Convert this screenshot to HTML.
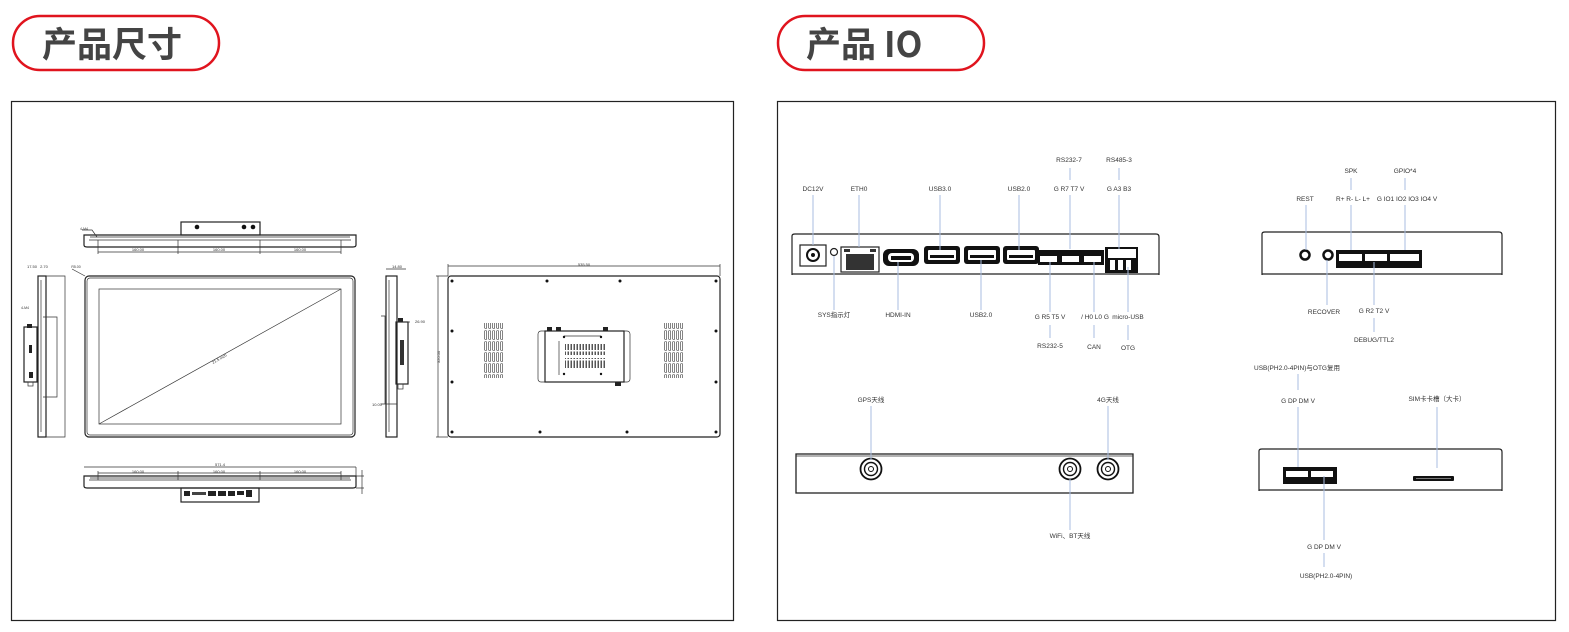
<!DOCTYPE html>
<html><head><meta charset="utf-8"><style>
html,body{margin:0;padding:0;background:#fff;}
svg{display:block;}
text{font-family:"Liberation Sans","Noto Sans CJK SC",sans-serif;}
.t{font-size:6.5px;fill:#333;text-anchor:middle;}
.h{font-size:35px;font-weight:bold;fill:#444;}
.bl{stroke:#a9bde0;stroke-width:1;}
.k{fill:none;stroke:#222;stroke-width:1.2;}
.k2{fill:none;stroke:#333;stroke-width:0.7;}
</style></head><body>
<svg width="1569" height="632" viewBox="0 0 1569 632" xmlns="http://www.w3.org/2000/svg">
<defs>
<pattern id="vent" width="4" height="11" patternUnits="userSpaceOnUse"><rect x="0.5" y="0.5" width="2.2" height="9" rx="1" fill="none" stroke="#333" stroke-width="0.6"/></pattern>
<pattern id="vent2" width="3" height="9" patternUnits="userSpaceOnUse"><rect x="0.5" y="0.5" width="1.5" height="7.5" fill="#555"/></pattern>
<pattern id="pin" width="4" height="6" patternUnits="userSpaceOnUse"><rect x="1" y="1" width="2" height="3" fill="#fff"/></pattern>
</defs>
<!-- titles -->
<rect x="13" y="16" width="206" height="54" rx="27" fill="none" stroke="#e0141e" stroke-width="2.5"/>
<text x="42" y="57" class="h" style="font-family:'Noto Sans CJK SC',sans-serif">产品尺寸</text>
<rect x="778" y="16" width="206" height="54" rx="27" fill="none" stroke="#e0141e" stroke-width="2.5"/>
<text x="806" y="57" class="h" style="font-family:'Noto Sans CJK SC',sans-serif">产品 IO</text>
<!-- panels -->
<rect x="11.5" y="101.5" width="722" height="519" fill="none" stroke="#222" stroke-width="1.2"/>
<rect x="777.5" y="101.5" width="778" height="519" fill="none" stroke="#222" stroke-width="1.2"/>

<!-- ===== dimensions ===== -->
<!-- top view -->
<rect x="181" y="222" width="79" height="13" class="k"/>
<circle cx="197" cy="227" r="2.3" fill="#111"/><circle cx="244" cy="227" r="2.3" fill="#111"/><circle cx="253" cy="227" r="2.3" fill="#111"/>
<path d="M84 235 H356 V245 Q356 247 353 247 H87 Q84 247 84 245 Z" class="k"/>
<path d="M90 237 H350 M89 240 H351" class="k2"/>
<path d="M98 240 V254 M178 240 V254 M260 240 V254 M341 240 V254 M98 252 H341" class="k2"/>
<text x="138" y="251" class="t" style="font-size:4px">160.00</text><text x="219" y="251" class="t" style="font-size:4px">160.00</text><text x="300" y="251" class="t" style="font-size:4px">160.00</text>
<path d="M82 230 H92 L97 237" class="k2"/><text x="84" y="230" class="t" style="font-size:3.5px">4-M4</text>
<!-- front view -->
<rect x="85" y="276" width="270" height="161" rx="4" class="k" stroke-width="1.6"/>
<rect x="87" y="278" width="266" height="157" rx="3" class="k2"/>
<rect x="99" y="289" width="242" height="135" class="k2"/>
<path d="M99 424 L341 289" class="k2"/>
<text x="220" y="360" class="t" style="font-size:4px" transform="rotate(-29 220 360)">21.5 inch</text>
<path d="M72 269 L85 276" class="k2"/><text x="76" y="268" class="t" style="font-size:3.5px">R5.00</text>
<!-- left side view -->
<rect x="38" y="276" width="8" height="161" class="k"/>
<path d="M41 280 V432" class="k2"/>
<rect x="24" y="327" width="13" height="55" class="k"/>
<rect x="27" y="324" width="5" height="4" fill="#222"/><rect x="29" y="345" width="3" height="8" fill="#222"/><rect x="29" y="372" width="4" height="6" fill="#222"/>
<rect x="28" y="382" width="5" height="4" class="k2"/>
<path d="M46 276 H65 V437 H46 M43 317 H57 V397 H43" class="k2"/>
<text x="32" y="268" class="t" style="font-size:4px">17.50</text><text x="44" y="268" class="t" style="font-size:4px">2.70</text>
<text x="25" y="309" class="t" style="font-size:3.5px">4-M4</text>
<!-- bottom view -->
<path d="M84 476 H356 V486 Q356 488 353 488 H87 Q84 488 84 486 Z" class="k"/>
<path d="M90 478 H350 M89 480 H351" class="k2"/>
<path d="M84 467 H356 M98 473 H341 M98 471 V480 M178 471 V480 M260 471 V480 M341 471 V480 M356 467 V476" class="k2"/>
<text x="220" y="466" class="t" style="font-size:4px">571.4</text>
<text x="138" y="473" class="t" style="font-size:4px">160.00</text><text x="219" y="473" class="t" style="font-size:4px">160.00</text><text x="300" y="473" class="t" style="font-size:4px">160.00</text>
<path d="M356 476 H364 M356 488 H364 M362 470 V494" class="k2"/>
<rect x="181" y="488" width="78" height="14" class="k"/>
<rect x="184" y="491" width="6" height="5" fill="#222"/><rect x="192" y="492" width="14" height="3" fill="#444"/>
<rect x="208" y="491" width="8" height="5" fill="#222"/><rect x="218" y="491" width="8" height="5" fill="#222"/><rect x="228" y="491" width="7" height="5" fill="#222"/><rect x="237" y="491" width="7" height="4" fill="#222"/><rect x="246" y="490" width="6" height="7" fill="#222"/>
<!-- right side view -->
<rect x="386" y="276" width="11" height="161" class="k"/>
<path d="M389 280 V432" class="k2"/>
<rect x="396" y="322" width="12" height="62" class="k"/>
<rect x="400" y="340" width="4" height="25" fill="#333"/><rect x="398" y="318" width="5" height="4" fill="#222"/>
<rect x="398" y="384" width="5" height="5" class="k2"/>
<path d="M386 269 H406 M381 316 H385 V404 M397 322 H410 M381 404 H397" class="k2"/>
<text x="397" y="268" class="t" style="font-size:4px">14.80</text><text x="420" y="323" class="t" style="font-size:4px">26.90</text>
<text x="377" y="406" class="t" style="font-size:4px">10.00</text>
<!-- rear view -->
<rect x="448" y="276" width="272" height="161" rx="3" class="k" stroke-width="1.5"/>
<path d="M448 266 H720 M448 264 V276 M720 264 V276 M438 276 V437 M436 276 H448 M436 437 H448" class="k2"/>
<text x="584" y="266" class="t" style="font-size:4px">535.50</text>
<text x="440" y="357" class="t" style="font-size:4px" transform="rotate(-90 440 357)">320.00</text>
<g fill="#111">
<circle cx="452" cy="281" r="1.5"/><circle cx="547" cy="281" r="1.5"/><circle cx="620" cy="281" r="1.5"/><circle cx="716" cy="281" r="1.5"/>
<circle cx="452" cy="331" r="1.5"/><circle cx="716" cy="331" r="1.5"/><circle cx="452" cy="382" r="1.5"/><circle cx="716" cy="382" r="1.5"/>
<circle cx="452" cy="432" r="1.5"/><circle cx="540" cy="432" r="1.5"/><circle cx="627" cy="432" r="1.5"/><circle cx="716" cy="432" r="1.5"/>
</g>
<rect x="484" y="323" width="20" height="55" fill="url(#vent)"/>
<rect x="664" y="323" width="20" height="55" fill="url(#vent)"/>
<rect x="538" y="331" width="92" height="51" rx="3" class="k2"/>
<rect x="545" y="331" width="79" height="51" class="k"/>
<rect x="547" y="327" width="5" height="4" fill="#222"/><rect x="556" y="327" width="5" height="4" fill="#222"/><rect x="603" y="327" width="5" height="4" fill="#222"/>
<rect x="615" y="382" width="6" height="4" fill="#222"/>
<rect x="565" y="344" width="40" height="11" fill="url(#vent2)"/>
<rect x="565" y="358" width="40" height="11" fill="url(#vent2)"/>
<path d="M564 336 H601 M559 341 V375" class="k2"/>
<g fill="#111"><circle cx="564" cy="337" r="1.2"/><circle cx="601" cy="337" r="1.2"/><circle cx="564" cy="374" r="1.2"/><circle cx="601" cy="374" r="1.2"/></g>

<!-- ===== IO ===== -->
<!-- box1 -->
<path d="M792 275 V236 Q792 234 795 234 H1156 Q1159 234 1159 237 V275" class="k" stroke-width="1.6"/>
<path d="M792 274 H1159" stroke="#222" stroke-width="1.2"/>
<rect x="800" y="245" width="26" height="21" class="k"/><circle cx="813" cy="255" r="6" fill="none" stroke="#111" stroke-width="2"/><circle cx="813" cy="255" r="2" fill="#111"/>
<circle cx="834" cy="252" r="3.5" class="k"/>
<rect x="841" y="247" width="38" height="25" class="k"/>
<path d="M846 254 H874 V270 H846 Z" fill="#333"/><rect x="844" y="249" width="6" height="3" fill="#333"/><rect x="870" y="249" width="6" height="3" fill="#333"/>
<rect x="883" y="249" width="36" height="17" rx="6" fill="#111"/><rect x="888" y="253" width="26" height="9" rx="4" fill="#fff"/><rect x="891" y="256" width="20" height="4" fill="#111"/>
<g fill="#111"><rect x="924" y="246" width="36" height="18" rx="3"/><rect x="964" y="246" width="36" height="18" rx="3"/><rect x="1003" y="246" width="36" height="18" rx="3"/></g>
<g fill="#fff"><rect x="928" y="250" width="28" height="10" rx="1"/><rect x="968" y="250" width="28" height="10" rx="1"/><rect x="1007" y="250" width="28" height="10" rx="1"/></g>
<g fill="#111"><rect x="930" y="255" width="24" height="3"/><rect x="970" y="255" width="24" height="3"/><rect x="1009" y="255" width="24" height="3"/></g>
<rect x="1038" y="250" width="66" height="15" fill="#111"/>
<rect x="1040" y="256" width="17" height="6" fill="#fff"/><rect x="1062" y="256" width="17" height="6" fill="#fff"/><rect x="1084" y="256" width="17" height="6" fill="#fff"/>
<rect x="1041" y="256" width="16" height="4" fill="url(#pin)"/><rect x="1063" y="256" width="16" height="4" fill="url(#pin)"/><rect x="1085" y="256" width="16" height="4" fill="url(#pin)"/>
<rect x="1105" y="247" width="33" height="26" fill="#111"/><rect x="1108" y="249" width="28" height="9" fill="#fff"/>
<rect x="1110" y="260" width="5" height="10" fill="#fff"/><rect x="1118" y="260" width="5" height="10" fill="#fff"/><rect x="1126" y="260" width="5" height="10" fill="#fff"/>
<path class="bl" d="M813 195 V245 M859 195 V247 M940 195 V250 M1019 195 V250 M1070 168 V180 M1070 195 V249 M1119 168 V180 M1119 195 V249 M834 256 V310 M898 262 V310 M981 260 V310 M1050 262 V312 M1050 325 V338 M1094 262 V312 M1094 325 V338 M1128 267 V312 M1128 325 V340"/>
<text class="t" x="813" y="191">DC12V</text><text class="t" x="859" y="191">ETH0</text><text class="t" x="940" y="191">USB3.0</text><text class="t" x="1019" y="191">USB2.0</text>
<text class="t" x="1069" y="162">RS232-7</text><text class="t" x="1069" y="191">G R7 T7 V</text><text class="t" x="1119" y="162">RS485-3</text><text class="t" x="1119" y="191">G A3 B3</text>
<text class="t" x="834" y="317">SYS指示灯</text><text class="t" x="898" y="317">HDMI-IN</text><text class="t" x="981" y="317">USB2.0</text>
<text class="t" x="1050" y="319">G R5 T5 V</text><text class="t" x="1050" y="348">RS232-5</text>
<text class="t" x="1095" y="319">/  H0  L0  G</text><text class="t" x="1094" y="349">CAN</text>
<text class="t" x="1128" y="319">micro-USB</text><text class="t" x="1128" y="350">OTG</text>
<!-- box2 -->
<path d="M1262 275 V234 Q1262 232 1265 232 H1499 Q1502 232 1502 235 V275" class="k" stroke-width="1.6"/>
<path d="M1262 274 H1502" stroke="#222" stroke-width="1.2"/>
<circle cx="1305" cy="255" r="4.5" fill="none" stroke="#111" stroke-width="2.5"/>
<circle cx="1328" cy="255" r="4.5" fill="none" stroke="#111" stroke-width="2.5"/>
<rect x="1336" y="250" width="86" height="18" fill="#111"/>
<rect x="1339" y="254" width="23" height="7" fill="#fff"/><rect x="1365" y="254" width="22" height="7" fill="#fff"/><rect x="1390" y="254" width="29" height="7" fill="#fff"/>
<rect x="1340" y="255" width="22" height="4" fill="url(#pin)"/><rect x="1366" y="255" width="21" height="4" fill="url(#pin)"/><rect x="1391" y="255" width="28" height="4" fill="url(#pin)"/>
<path class="bl" d="M1306 205 V250 M1351 178 V190 M1351 205 V250 M1405 178 V190 M1405 205 V250 M1327 260 V305 M1374 262 V305 M1374 318 V332"/>
<text class="t" x="1305" y="201">REST</text><text class="t" x="1351" y="173">SPK</text><text class="t" x="1353" y="201">R+ R- L- L+</text>
<text class="t" x="1405" y="173">GPIO*4</text><text class="t" x="1407" y="201">G IO1 IO2 IO3 IO4 V</text>
<text class="t" x="1324" y="314">RECOVER</text><text class="t" x="1374" y="313">G R2 T2 V</text><text class="t" x="1374" y="342">DEBUG/TTL2</text>
<!-- box3 -->
<rect x="796" y="454" width="337" height="39" fill="none" stroke="#222" stroke-width="1.3"/>
<path d="M796 456 H1133" class="k2"/>
<g fill="none" stroke="#111">
<circle cx="871" cy="469" r="10.5" stroke-width="1.8"/><circle cx="871" cy="469" r="6.5" stroke-width="1.4"/><circle cx="871" cy="469" r="2.5"/>
<circle cx="1070" cy="469" r="10.5" stroke-width="1.8"/><circle cx="1070" cy="469" r="6.5" stroke-width="1.4"/><circle cx="1070" cy="469" r="2.5"/>
<circle cx="1108" cy="469" r="10.5" stroke-width="1.8"/><circle cx="1108" cy="469" r="6.5" stroke-width="1.4"/><circle cx="1108" cy="469" r="2.5"/>
</g>
<path class="bl" d="M871 406 V460 M1108 406 V460 M1070 479 V530"/>
<text class="t" x="871" y="402">GPS天线</text><text class="t" x="1108" y="402">4G天线</text><text class="t" x="1070" y="538">WiFi、BT天线</text>
<!-- box4 -->
<path d="M1259 491 V451 Q1259 449 1262 449 H1499 Q1502 449 1502 452 V491" class="k" stroke-width="1.6"/>
<path d="M1259 490 H1502" stroke="#222" stroke-width="1.2"/>
<rect x="1283" y="467" width="54" height="17" fill="#111"/>
<rect x="1286" y="471" width="22" height="6" fill="#fff"/><rect x="1311" y="471" width="22" height="6" fill="#fff"/>
<rect x="1287" y="472" width="21" height="3" fill="url(#pin)"/><rect x="1312" y="472" width="21" height="3" fill="url(#pin)"/>
<rect x="1413" y="476" width="41" height="5" rx="1" fill="#111"/><rect x="1416" y="478" width="35" height="1" fill="#777"/>
<path class="bl" d="M1298 374 V390 M1298 407 V467 M1324 476 V540 M1324 553 V567 M1437 407 V468"/>
<text class="t" x="1297" y="370">USB(PH2.0-4PIN)与OTG复用</text><text class="t" x="1298" y="403">G DP DM V</text>
<text class="t" x="1437" y="401">SIM卡卡槽（大卡）</text>
<text class="t" x="1324" y="549">G DP DM V</text><text class="t" x="1326" y="578">USB(PH2.0-4PIN)</text>
</svg>
</body></html>
